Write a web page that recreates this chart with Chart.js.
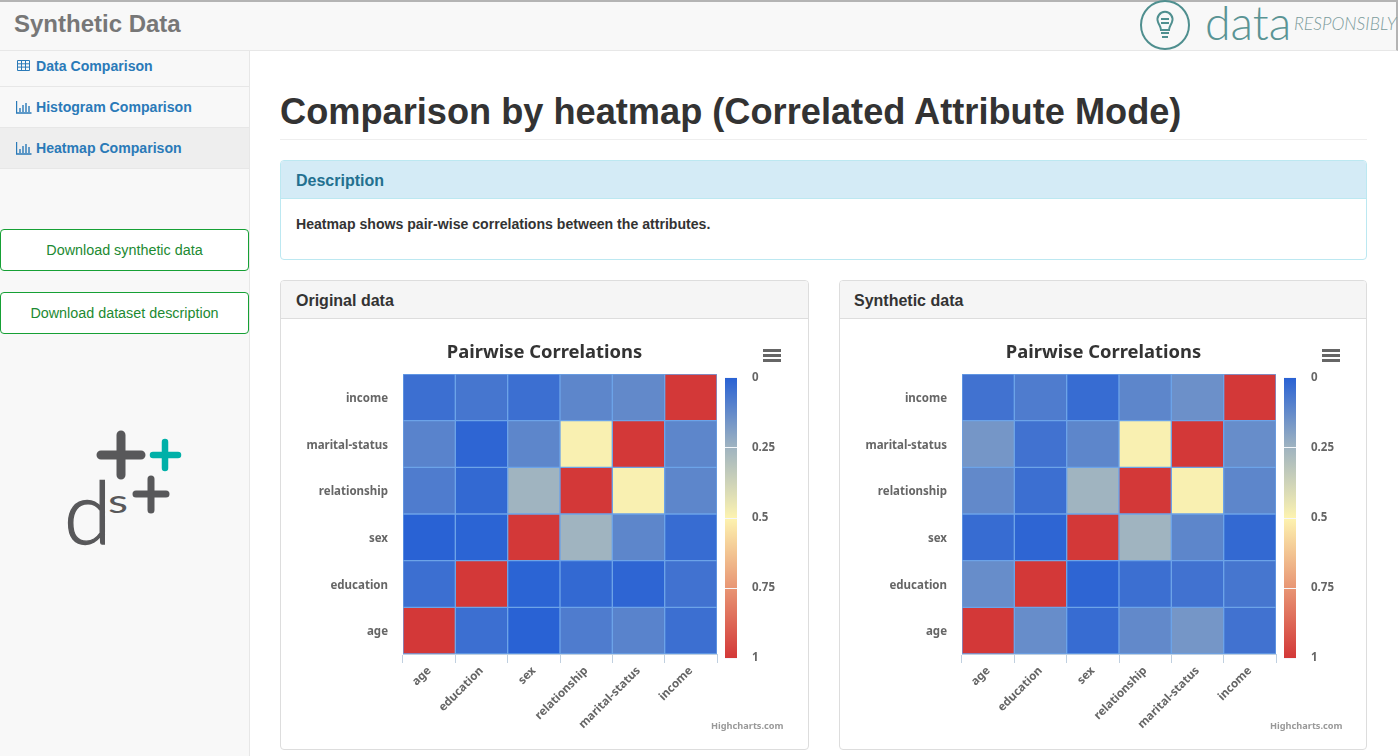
<!DOCTYPE html>
<html>
<head>
<meta charset="utf-8">
<title>Synthetic Data</title>
<script src="https://cdn.jsdelivr.net/npm/chart.js@4"></script>
<style>
html, body { margin: 0; padding: 0; width: 1398px; height: 756px; overflow: hidden; background: #fff; font-family: "Liberation Sans", sans-serif; color: #333; }
.abs { position: absolute; box-sizing: border-box; }
.top { left: 0; top: 0; width: 1398px; height: 51px; background: #f8f8f8; border-top: 2px solid #b4b4b4; border-bottom: 1px solid #e7e7e7; border-right: 2px solid #b4b4b4; }
.brand { left: 14px; top: 9px; font-size: 24px; font-weight: bold; color: #777; line-height: 30px; }
.side { left: 0; top: 51px; width: 250px; height: 705px; background: #f8f8f8; border-right: 1px solid #e7e7e7; }
.nav { left: 0; width: 249px; border-bottom: 1px solid #e7e7e7; font-size: 14.1px; font-weight: bold; color: #2a7ab8; padding-left: 36px; }
.nav svg { position: absolute; left: 16px; top: 13px; }
.btn { left: 0; width: 249px; height: 42px; border: 1px solid #16a035; border-radius: 4px; background: #fff; color: #1d8a32; font-size: 14.35px; text-align: center; line-height: 40px; }
h1 { position: absolute; left: 280px; top: 91px; margin: 0; font-size: 36.2px; line-height: 42px; font-weight: bold; color: #333; white-space: nowrap; }
.rule { left: 280px; top: 139px; width: 1087px; height: 1px; background: #eee; }
.panel { border: 1px solid #ddd; border-radius: 4px; background: #fff; }
.head { position: absolute; left: 0; top: 0; right: 0; height: 38px; background: #f5f5f5; border-bottom: 1px solid #ddd; border-radius: 3px 3px 0 0; font-size: 16px; font-weight: bold; line-height: 39px; padding-left: 15px; box-sizing: border-box; }
.info { border-color: #bce8f1; }
.info .head { background: #d4ebf6; border-bottom-color: #bce8f1; color: #23708f; }
.infotext { left: 296px; top: 216px; font-size: 14.1px; font-weight: bold; color: #333; line-height: 16px; }
.credit { font: bold 9.2px "Noto Sans", sans-serif; color: #999; white-space: nowrap; }
canvas { position: absolute; }
</style>
</head>
<body>
<div class="abs top"></div>
<div class="abs brand">Synthetic Data</div>

<svg class="abs" style="left:1130px;top:0" width="268" height="50">
  <circle cx="35" cy="25" r="24" fill="none" stroke="#4f8f8f" stroke-width="2"/>
  <path d="M28 22a7.5 7.5 0 1 1 14 0c-1 3-3 5-3 8h-8c0-3-2-5-3-8z" fill="none" stroke="#4f8f8f" stroke-width="2"/>
  <path d="M31 19h8M31 23h8M31 33h8M32 37h6" fill="none" stroke="#4f8f8f" stroke-width="2"/>
  <text x="75" y="40" font-family="Lato" font-weight="300" font-size="46.5" fill="#5a9494">data</text>
  <text x="164" y="30" font-family="Lato" font-weight="300" font-style="italic" font-size="17.5" fill="#7c9c9c">RESPONSIBLY</text>
</svg>

<div class="abs side"></div>
<div class="abs nav" style="top:46px;height:41px;line-height:40px">
  <svg width="16" height="14"><path d="M1.5 1.5h12v10h-12zM1.5 4.8h12M1.5 8.1h12M5.5 1.5v10M9.5 1.5v10" fill="none" stroke="#2a7ab8"/></svg>Data Comparison</div>
<div class="abs nav" style="top:87px;height:41px;line-height:40px">
  <svg width="16" height="14"><path d="M.5 1v12h15M4 8v4M7 5v7M10 3v9M13 6v6" fill="none" stroke="#2a7ab8" stroke-width="1.4"/></svg>Histogram Comparison</div>
<div class="abs nav" style="top:128px;height:41px;line-height:40px;background:#eee">
  <svg width="16" height="14"><path d="M.5 1v12h15M4 8v4M7 5v7M10 3v9M13 6v6" fill="none" stroke="#2a7ab8" stroke-width="1.4"/></svg>Heatmap Comparison</div>
<div class="abs btn" style="top:229px">Download synthetic data</div>
<div class="abs btn" style="top:292px">Download dataset description</div>

<svg class="abs" style="left:50px;top:420px" width="150" height="140">
  <g fill="none" stroke-linecap="round">
    <path d="M51 35h40M71 15v40" stroke="#58585a" stroke-width="9"/>
    <path d="M103 35h25M115 22v26" stroke="#00b0a8" stroke-width="6.5"/>
    <path d="M86 74h30M101 59v31" stroke="#58585a" stroke-width="7"/>
  </g>
  <text x="14" y="124" font-family="Lato" font-weight="300" font-size="86" fill="#58585a" stroke="#58585a" stroke-width="1.4">d</text>
  <text x="58" y="93" font-family="Lato" font-size="33" textLength="20" lengthAdjust="spacingAndGlyphs" fill="#58585a">s</text>
</svg>

<h1>Comparison by heatmap (Correlated Attribute Mode)</h1>
<div class="abs rule"></div>

<div class="abs panel info" style="left:280px;top:160px;width:1087px;height:100px"><div class="head">Description</div></div>
<div class="abs infotext">Heatmap shows pair-wise correlations between the attributes.</div>

<div class="abs panel" style="left:280px;top:280px;width:529px;height:470px"><div class="head">Original data</div></div>
<div class="abs panel" style="left:839px;top:280px;width:528px;height:470px"><div class="head" style="padding-left:14px">Synthetic data</div></div>

<canvas id="origHeat" style="left:281px;top:319px" width="527" height="430"></canvas>
<canvas id="origBar" style="left:725px;top:356px" width="70" height="324"></canvas>
<canvas id="synthHeat" style="left:840px;top:319px" width="527" height="430"></canvas>
<canvas id="synthBar" style="left:1284px;top:356px" width="70" height="324"></canvas>

<svg class="abs" style="left:763px;top:349px" width="18" height="13"><path d="M0 1.5h18M0 6.5h18M0 11.5h18" stroke="#666" stroke-width="3"/></svg>
<svg class="abs" style="left:1322px;top:349px" width="18" height="13"><path d="M0 1.5h18M0 6.5h18M0 11.5h18" stroke="#666" stroke-width="3"/></svg>
<div class="abs credit" style="left:711px;top:719px">Highcharts.com</div>
<div class="abs credit" style="left:1270px;top:719px">Highcharts.com</div>

<script>
// columns left to right, rows listed bottom to top (same order)
const attributes = ['age', 'education', 'sex', 'relationship', 'marital-status', 'income'];
const legendTicks = [0, 0.25, 0.5, 0.75, 1];

const origAge = [1, 0.04, 0, 0.08, 0.10, 0.04];
const origEducation = [0.04, 1, 0.005, 0.02, 0.01, 0.05];
const origSex = [0, 0.005, 1, 0.25, 0.11, 0.03];
const origRelationship = [0.08, 0.02, 0.25, 1, 0.49, 0.11];
const origMarital = [0.10, 0.01, 0.11, 0.49, 1, 0.11];
const origIncome = [0.04, 0.06, 0.04, 0.11, 0.12, 1];

const synthAge = [1, 0.13, 0.03, 0.12, 0.16, 0.05];
const synthEducation = [0.13, 1, 0.01, 0.04, 0.05, 0.06];
const synthSex = [0.03, 0.01, 1, 0.25, 0.11, 0.02];
const synthRelationship = [0.12, 0.04, 0.25, 1, 0.49, 0.11];
const synthMarital = [0.16, 0.05, 0.11, 0.49, 1, 0.13];
const synthIncome = [0.05, 0.08, 0.03, 0.11, 0.14, 1];

const stopAt = [0, 0.25, 0.5, 1];
const stopColor = [[41, 98, 212], [160, 180, 192], [253, 243, 176], [211, 56, 56]];

const fontFamily = '"Noto Sans", sans-serif';

function colorFor(v) {
    let i = 0;
    while (i < stopAt.length - 2 && v > stopAt[i + 1]) i++;
    const t = (v - stopAt[i]) / (stopAt[i + 1] - stopAt[i]);
    const c = stopColor[i].map((a, k) => Math.round(a + (stopColor[i + 1][k] - a) * t));
    return `rgb(${c[0]},${c[1]},${c[2]})`;
}

function heatChart(id, rows) {
    new Chart(document.getElementById(id), {
        type: 'bar',
        data: {
            labels: attributes,
            datasets: rows.map((row, r) => ({
                label: attributes[r],
                data: row.map(() => [r, r + 1]),
                backgroundColor: row.map(colorFor),
                borderColor: '#6ca3e8',
                borderWidth: 1,
                borderSkipped: false,
                grouped: false,
                barPercentage: 1,
                categoryPercentage: 1
            }))
        },
        options: {
            responsive: false,
            animation: false,
            plugins: {
                legend: { display: false },
                tooltip: { enabled: false },
                title: {
                    display: true,
                    text: 'Pairwise Correlations',
                    color: '#333',
                    font: { family: fontFamily, size: 18.4, weight: 'bold', lineHeight: 1.2 },
                    padding: { top: 23, bottom: 9.92 }
                }
            },
            scales: {
                x: {
                    grid: { drawOnChartArea: false, color: '#c0d0e0', tickLength: 9, offset: true },
                    border: { color: '#c0d0e0' },
                    ticks: {
                        color: '#666',
                        font: { family: fontFamily, size: 11.5, weight: 'bold' },
                        minRotation: 45,
                        maxRotation: 45,
                        autoSkip: false,
                        padding: 1
                    },
                    afterFit(axis) { axis.height = 95; }
                },
                y: {
                    min: 0,
                    max: 6,
                    grid: { display: false },
                    border: { display: false },
                    afterBuildTicks(axis) {
                        axis.ticks = attributes.map((a, i) => ({ value: i + 0.47 }));
                    },
                    ticks: {
                        color: '#666',
                        font: { family: fontFamily, size: 11.5, weight: 'bold' },
                        padding: 7,
                        callback: v => attributes[Math.floor(v)]
                    },
                    afterFit(axis) { axis.width = 122; }
                },
                // empty axis, only keeps room for the colour legend on the right
                spacer: {
                    position: 'right',
                    grid: { display: false },
                    border: { display: false },
                    ticks: { display: false },
                    afterFit(axis) { axis.width = 91; }
                }
            }
        }
    });
}

function legendChart(id) {
    new Chart(document.getElementById(id), {
        type: 'bar',
        data: {
            labels: ['scale'],
            datasets: [{
                data: [[0, 1]],
                backgroundColor(ctx) {
                    const area = ctx.chart.chartArea;
                    if (!area) return stopColor[0];
                    const g = ctx.chart.ctx.createLinearGradient(0, area.top, 0, area.bottom);
                    stopAt.forEach((s, i) => g.addColorStop(s, `rgb(${stopColor[i].join(',')})`));
                    return g;
                },
                barPercentage: 1,
                categoryPercentage: 1
            }]
        },
        options: {
            responsive: false,
            animation: false,
            plugins: { legend: { display: false }, tooltip: { enabled: false } },
            scales: {
                x: { display: false },
                y: {
                    position: 'right',
                    reverse: true,
                    min: 0,
                    max: 1,
                    grid: { color: '#f4f6fa', z: 1, drawTicks: false },
                    border: { display: false },
                    afterBuildTicks(axis) {
                        axis.ticks = legendTicks.map(v => ({ value: v }));
                    },
                    ticks: {
                        color: '#666',
                        font: { family: fontFamily, size: 11.5, weight: 'bold' },
                        padding: 15,
                        callback: v => String(v)
                    },
                    afterFit(axis) { axis.width = 58; }
                }
            }
        }
    });
}

heatChart('origHeat', [origAge, origEducation, origSex, origRelationship, origMarital, origIncome]);
heatChart('synthHeat', [synthAge, synthEducation, synthSex, synthRelationship, synthMarital, synthIncome]);
legendChart('origBar');
legendChart('synthBar');
</script>
</body>
</html>
